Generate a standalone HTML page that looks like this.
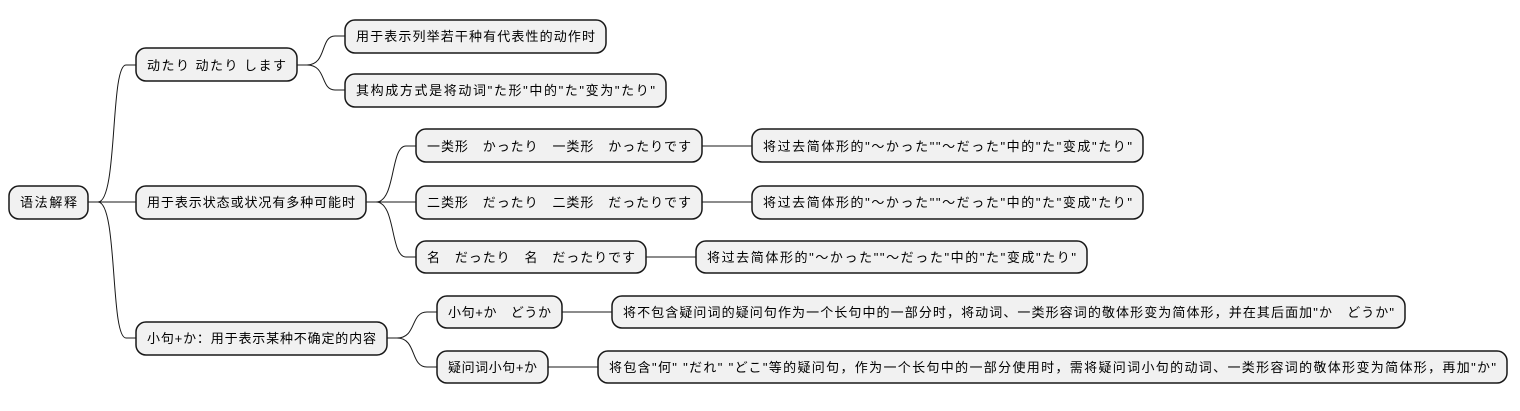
<!DOCTYPE html>
<html><head><meta charset="utf-8"><style>
html,body{margin:0;padding:0;background:#fff;}
svg text{font-family:"Liberation Sans","Noto Sans CJK SC",sans-serif;font-size:13px;fill:#000;}
</style></head><body>
<svg width="1520" height="406" xmlns="http://www.w3.org/2000/svg">
<g fill="none" stroke="#181818" stroke-width="1">
<path d="M88,202 H98 C118,202 110,65 126,65 H136"/>
<path d="M88,202 H136"/>
<path d="M88,202 H98 C118,202 110,338 126,338 H136"/>
<path d="M297,65 H307 C327,65 320,36 335,36 H345"/>
<path d="M297,65 H307 C327,65 320,90 335,90 H345"/>
<path d="M366,202 H376 C396,202 390,146 406,146 H416"/>
<path d="M366,202 H416"/>
<path d="M366,202 H376 C396,202 390,257 406,257 H416"/>
<path d="M702,146 H752"/>
<path d="M702,202 H752"/>
<path d="M646,257 H696"/>
<path d="M387,338 H397 C417,338 410,312 427,312 H437"/>
<path d="M387,338 H397 C417,338 410,367 427,367 H437"/>
<path d="M562,312 H612"/>
<path d="M548,367 H598"/>
</g>
<g fill="#f1f1f1" stroke="#181818" stroke-width="1.5">
<rect x="9" y="186" width="79" height="33" rx="10"/>
<rect x="136" y="48" width="161" height="33" rx="10"/>
<rect x="345" y="20" width="261" height="33" rx="10"/>
<rect x="345" y="74" width="321" height="33" rx="10"/>
<rect x="136" y="186" width="230" height="33" rx="10"/>
<rect x="416" y="129" width="286" height="33" rx="10"/>
<rect x="416" y="186" width="286" height="33" rx="10"/>
<rect x="416" y="241" width="230" height="32" rx="10"/>
<rect x="752" y="129" width="391" height="33" rx="10"/>
<rect x="752" y="186" width="391" height="33" rx="10"/>
<rect x="696" y="241" width="391" height="32" rx="10"/>
<rect x="136" y="322" width="251" height="33" rx="10"/>
<rect x="437" y="296" width="125" height="32" rx="10"/>
<rect x="437" y="351" width="111" height="32" rx="10"/>
<rect x="612" y="296" width="793" height="32" rx="10"/>
<rect x="598" y="351" width="909" height="32" rx="10"/>
</g>
<g>
<text x="20" y="207" textLength="57" lengthAdjust="spacing">语法解释</text>
<text x="147" y="70" textLength="139" lengthAdjust="spacing">动たり 动たり します</text>
<text x="356" y="41" textLength="239" lengthAdjust="spacing">用于表示列举若干种有代表性的动作时</text>
<text x="356" y="95" textLength="299" lengthAdjust="spacing">其构成方式是将动词"た形"中的"た"变为"たり"</text>
<text x="147" y="207" textLength="208" lengthAdjust="spacing">用于表示状态或状况有多种可能时</text>
<text x="427" y="151" xml:space="preserve" textLength="264" lengthAdjust="spacing">一类形　かったり　一类形　かったりです</text>
<text x="427" y="207" xml:space="preserve" textLength="264" lengthAdjust="spacing">二类形　だったり　二类形　だったりです</text>
<text x="427" y="262" xml:space="preserve" textLength="208" lengthAdjust="spacing">名　だったり　名　だったりです</text>
<text x="763" y="151" textLength="369" lengthAdjust="spacing">将过去简体形的"～かった""～だった"中的"た"变成"たり"</text>
<text x="763" y="207" textLength="369" lengthAdjust="spacing">将过去简体形的"～かった""～だった"中的"た"变成"たり"</text>
<text x="707" y="262" textLength="369" lengthAdjust="spacing">将过去简体形的"～かった""～だった"中的"た"变成"たり"</text>
<text x="147" y="343" textLength="229" lengthAdjust="spacing">小句+か：用于表示某种不确定的内容</text>
<text x="448" y="317" xml:space="preserve" textLength="103" lengthAdjust="spacing">小句+か　どうか</text>
<text x="448" y="372" textLength="89" lengthAdjust="spacing">疑问词小句+か</text>
<text x="623" y="317" xml:space="preserve" textLength="771" lengthAdjust="spacing">将不包含疑问词的疑问句作为一个长句中的一部分时，将动词、一类形容词的敬体形变为简体形，并在其后面加"か　どうか"</text>
<text x="609" y="372" textLength="887" lengthAdjust="spacing">将包含"何" "だれ" "どこ"等的疑问句，作为一个长句中的一部分使用时，需将疑问词小句的动词、一类形容词的敬体形变为简体形，再加"か"</text>
</g>
</svg>
</body></html>
